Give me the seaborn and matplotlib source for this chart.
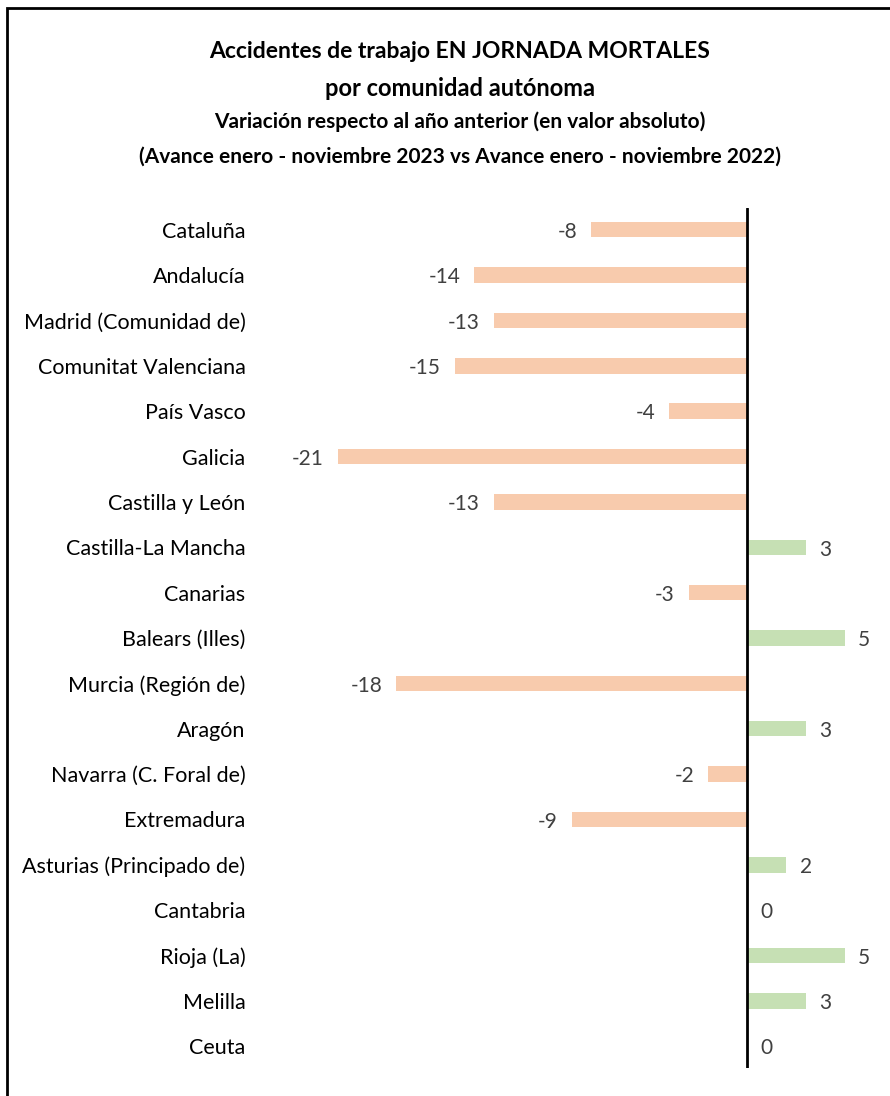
import numpy as np
import pandas as pd
import matplotlib.pyplot as plt
from matplotlib.patches import Rectangle
import seaborn as sns

regiones = ['Cataluña', 'Andalucía', 'Madrid (Comunidad de)', 'Comunitat Valenciana',
            'País Vasco', 'Galicia', 'Castilla y León', 'Castilla-La Mancha', 'Canarias',
            'Balears (Illes)', 'Murcia (Región de)', 'Aragón', 'Navarra (C. Foral de)',
            'Extremadura', 'Asturias (Principado de)', 'Cantabria', 'Rioja (La)',
            'Melilla', 'Ceuta']
variacion = [-8, -14, -13, -15, -4, -21, -13, 3, -3, 5, -18, 3, -2, -9, 2, 0, 5, 3, 0]

titulo = ['Accidentes de trabajo EN JORNADA MORTALES',
          'por comunidad autónoma',
          'Variación respecto al año anterior (en valor absoluto)',
          '(Avance enero - noviembre 2023 vs Avance enero - noviembre 2022)']

df = pd.DataFrame({'region': regiones, 'valor': variacion})
df['signo'] = np.where(df['valor'] < 0, 'neg', 'pos')

sns.set_style('white')
plt.rcParams['font.family'] = ['Lato', 'DejaVu Sans']
plt.rcParams['text.color'] = 'black'

W, H = 890, 1096
fig = plt.figure(figsize=(W / 100, H / 100), dpi=100)
ax = fig.add_axes([259.5 / W, 1 - 1068 / H, 624 / W, (1068 - 208) / H])

sns.barplot(data=df, x='valor', y='region', hue='signo', orient='h',
            palette={'neg': '#F8CBAD', 'pos': '#C6E0B4'}, width=0.34,
            saturation=1, legend=False, ax=ax, dodge=False, linewidth=0)

ax.set_xlim(-25, 7)
ax.set_ylim(18.48, -0.48)
ax.axvline(0, color='black', lw=2)
for s in ax.spines.values():
    s.set_visible(False)
ax.set_xticks([])
ax.set_xlabel('')
ax.set_ylabel('')
ax.tick_params(axis='y', length=0, pad=10, labelsize=15.5, labelcolor='black')

for i, v in enumerate(variacion):
    if v < 0:
        ax.text(v - 0.7, i + 0.05, str(v), ha='right', va='center', fontsize=15, color='#404040')
    else:
        ax.text(v + 0.7, i + 0.05, str(v), ha='left', va='center', fontsize=15, color='#404040')

cx = 460 / W
fig.text(cx, 1 - 52 / H, titulo[0], ha='center', va='center', fontsize=16.5, fontweight='bold')
fig.text(cx, 1 - 88 / H, titulo[1], ha='center', va='center', fontsize=17, fontweight='bold')
fig.text(cx, 1 - 122 / H, titulo[2], ha='center', va='center', fontsize=15, fontweight='bold')
fig.text(cx, 1 - 157 / H, titulo[3], ha='center', va='center', fontsize=15, fontweight='bold')

fig.patches.append(Rectangle((7 / W, -0.01), 1.0, 1.01 - 8 / H, transform=fig.transFigure,
                             fill=False, edgecolor='black', lw=2))

fig.savefig('out.png', dpi=100)
